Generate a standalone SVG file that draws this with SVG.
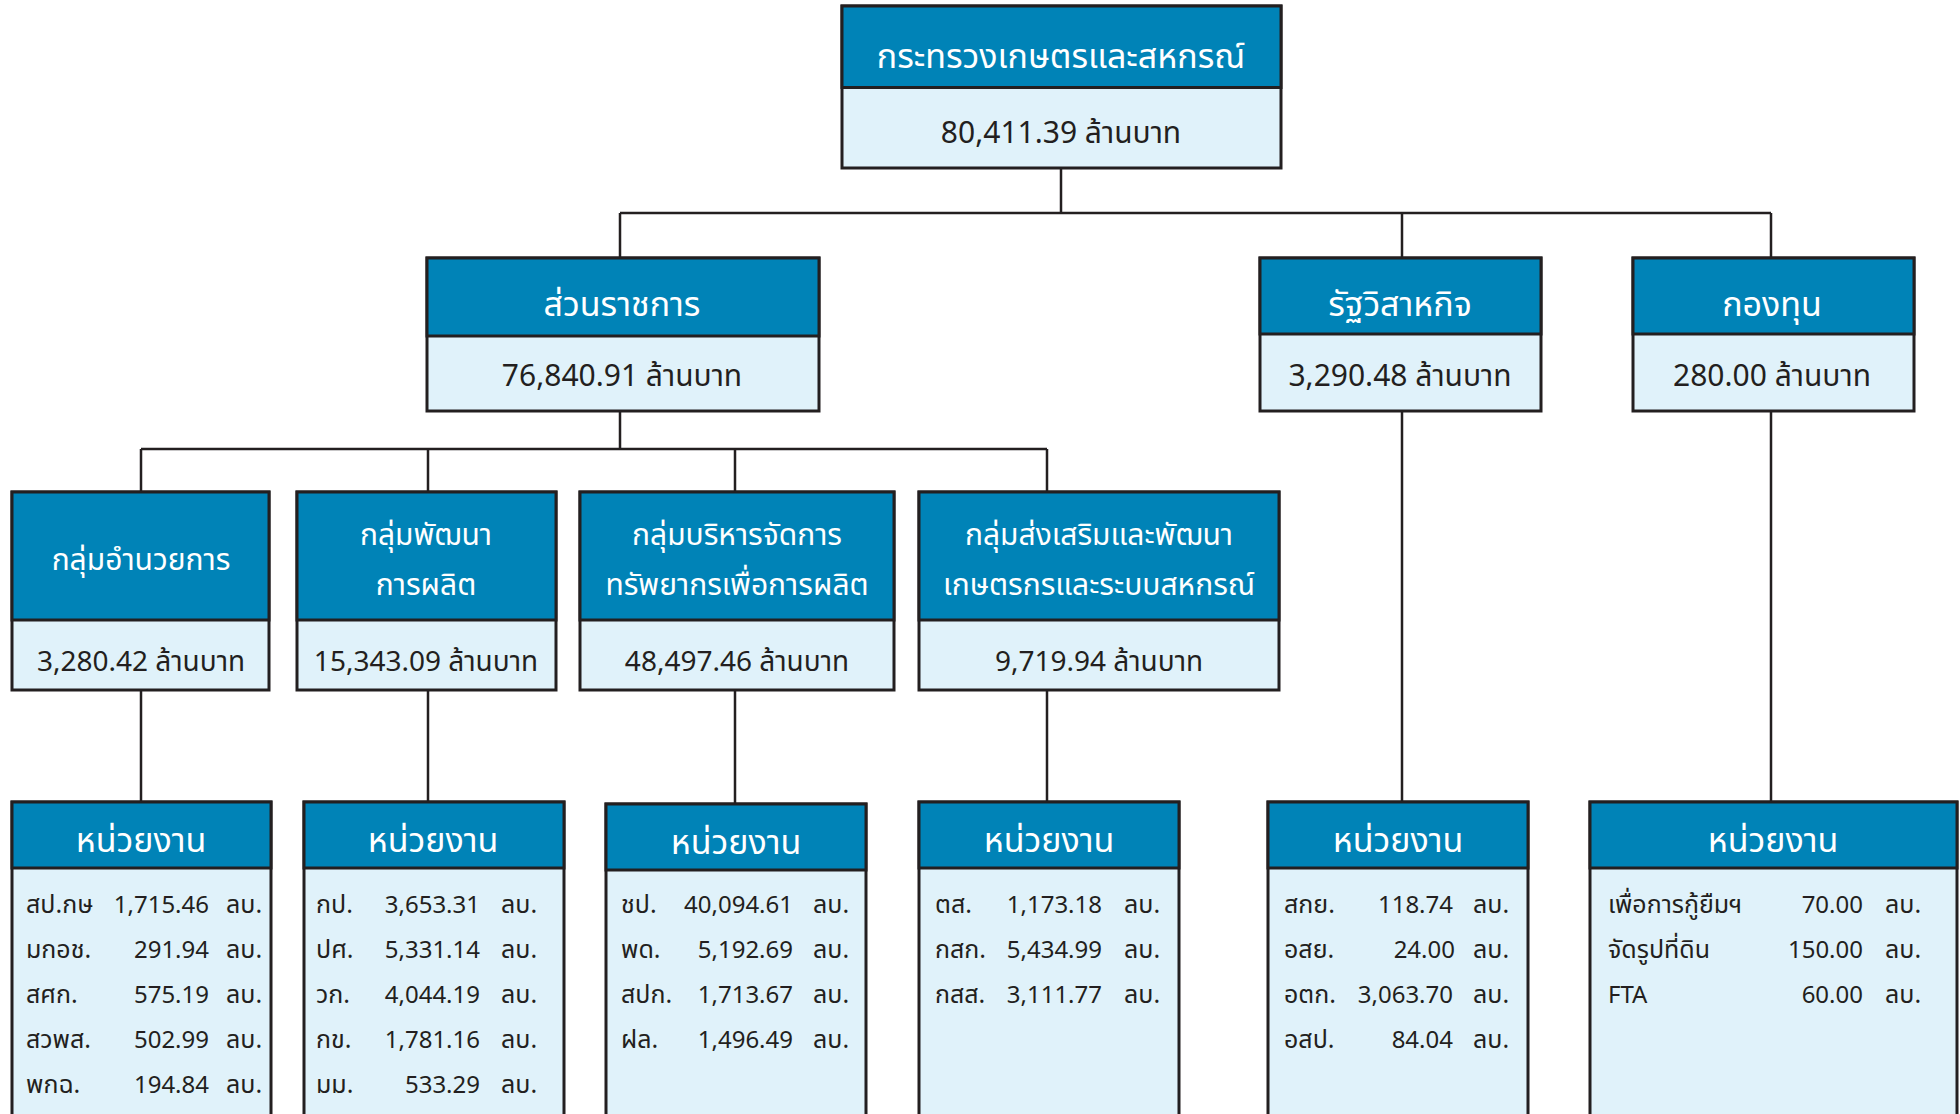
<svg xmlns="http://www.w3.org/2000/svg" width="1960" height="1114" viewBox="0 0 1960 1114">
<style>
.hd{fill:#0083b7;stroke:#231f20;stroke-width:3}
.bd{fill:#e0f2fa;stroke:#231f20;stroke-width:3}
.ln{fill:none;stroke:#231f20;stroke-width:2.5}
text{font-family:"Noto Sans Thai","Noto Sans","DejaVu Sans",sans-serif}
.ht{fill:#ffffff;font-size:34px;text-anchor:middle}
.h3{font-size:30px}
.vt{fill:#231f20;font-size:30px;text-anchor:middle}
.v3{font-size:28px}
.it{fill:#231f20;font-size:24px}
.th{font-size:25px}
.nr{text-anchor:end}
</style>
<rect width="1960" height="1114" fill="#ffffff"/>
<g id="connectors" class="ln">
<path d="M1061 168V213M620 213H1771M620 213V258M1402 213V258M1771 213V258"/>
<path d="M620 411V449M141 449H1047M141 449V492M428 449V492M735 449V492M1047 449V492"/>
<path d="M141 690V802M428 690V802M735 690V804M1047 690V802M1402 411V802M1771 411V802"/>
</g>
<g id="n-moac">
<rect class="bd" x="842" y="6" width="439" height="162"/>
<rect class="hd" x="842" y="6" width="439" height="81.5"/>
<text class="ht" x="1061" y="68">กระทรวงเกษตรและสหกรณ์</text>
<text class="vt" x="1061" y="143">80,411.39 ล้านบาท</text>
</g>
<g id="n-gov">
<rect class="bd" x="427" y="258" width="392" height="153"/>
<rect class="hd" x="427" y="258" width="392" height="78"/>
<text class="ht" x="622" y="316">ส่วนราชการ</text>
<text class="vt" x="622" y="386">76,840.91 ล้านบาท</text>
</g>
<g id="n-soe">
<rect class="bd" x="1260" y="258" width="281" height="153"/>
<rect class="hd" x="1260" y="258" width="281" height="76"/>
<text class="ht" x="1400" y="316">รัฐวิสาหกิจ</text>
<text class="vt" x="1400" y="386">3,290.48 ล้านบาท</text>
</g>
<g id="n-fund">
<rect class="bd" x="1633" y="258" width="281" height="153"/>
<rect class="hd" x="1633" y="258" width="281" height="76"/>
<text class="ht" x="1772" y="316">กองทุน</text>
<text class="vt" x="1772" y="386">280.00 ล้านบาท</text>
</g>
<g id="n-g1">
<rect class="bd" x="12" y="492" width="257" height="198"/>
<rect class="hd" x="12" y="492" width="257" height="128"/>
<text class="ht h3" x="141" y="570">กลุ่มอำนวยการ</text>
<text class="vt v3" x="141" y="671">3,280.42 ล้านบาท</text>
</g>
<g id="n-g2">
<rect class="bd" x="297" y="492" width="259" height="198"/>
<rect class="hd" x="297" y="492" width="259" height="128"/>
<text class="ht h3" x="426" y="545">กลุ่มพัฒนา</text>
<text class="ht h3" x="426" y="595">การผลิต</text>
<text class="vt v3" x="426" y="671">15,343.09 ล้านบาท</text>
</g>
<g id="n-g3">
<rect class="bd" x="580" y="492" width="314" height="198"/>
<rect class="hd" x="580" y="492" width="314" height="128"/>
<text class="ht h3" x="737" y="545">กลุ่มบริหารจัดการ</text>
<text class="ht h3" x="737" y="595">ทรัพยากรเพื่อการผลิต</text>
<text class="vt v3" x="737" y="671">48,497.46 ล้านบาท</text>
</g>
<g id="n-g4">
<rect class="bd" x="919" y="492" width="360" height="198"/>
<rect class="hd" x="919" y="492" width="360" height="128"/>
<text class="ht h3" x="1099" y="545">กลุ่มส่งเสริมและพัฒนา</text>
<text class="ht h3" x="1099" y="595">เกษตรกรและระบบสหกรณ์</text>
<text class="vt v3" x="1099" y="671">9,719.94 ล้านบาท</text>
</g>
<g id="n-u1">
<rect class="bd" x="12" y="802" width="259" height="330"/>
<rect class="hd" x="12" y="802" width="259" height="66"/>
<text class="ht" x="141" y="852">หน่วยงาน</text>
<g class="it">
<text class="th" x="26" y="913">สป.กษ</text><text class="nr" x="209" y="913">1,715.46</text><text class="th" x="226" y="913">ลบ.</text>
<text class="th" x="26" y="958">มกอช.</text><text class="nr" x="209" y="958">291.94</text><text class="th" x="226" y="958">ลบ.</text>
<text class="th" x="26" y="1003">สศก.</text><text class="nr" x="209" y="1003">575.19</text><text class="th" x="226" y="1003">ลบ.</text>
<text class="th" x="26" y="1048">สวพส.</text><text class="nr" x="209" y="1048">502.99</text><text class="th" x="226" y="1048">ลบ.</text>
<text class="th" x="26" y="1093">พกฉ.</text><text class="nr" x="209" y="1093">194.84</text><text class="th" x="226" y="1093">ลบ.</text>
</g>
</g>
<g id="n-u2">
<rect class="bd" x="304" y="802" width="260" height="330"/>
<rect class="hd" x="304" y="802" width="260" height="66"/>
<text class="ht" x="433" y="852">หน่วยงาน</text>
<g class="it">
<text class="th" x="316" y="913">กป.</text><text class="nr" x="480" y="913">3,653.31</text><text class="th" x="501" y="913">ลบ.</text>
<text class="th" x="316" y="958">ปศ.</text><text class="nr" x="480" y="958">5,331.14</text><text class="th" x="501" y="958">ลบ.</text>
<text class="th" x="316" y="1003">วก.</text><text class="nr" x="480" y="1003">4,044.19</text><text class="th" x="501" y="1003">ลบ.</text>
<text class="th" x="316" y="1048">กข.</text><text class="nr" x="480" y="1048">1,781.16</text><text class="th" x="501" y="1048">ลบ.</text>
<text class="th" x="316" y="1093">มม.</text><text class="nr" x="480" y="1093">533.29</text><text class="th" x="501" y="1093">ลบ.</text>
</g>
</g>
<g id="n-u3">
<rect class="bd" x="606" y="804" width="260" height="330"/>
<rect class="hd" x="606" y="804" width="260" height="66"/>
<text class="ht" x="736" y="854">หน่วยงาน</text>
<g class="it">
<text class="th" x="621" y="913">ชป.</text><text class="nr" x="793" y="913">40,094.61</text><text class="th" x="813" y="913">ลบ.</text>
<text class="th" x="621" y="958">พด.</text><text class="nr" x="793" y="958">5,192.69</text><text class="th" x="813" y="958">ลบ.</text>
<text class="th" x="621" y="1003">สปก.</text><text class="nr" x="793" y="1003">1,713.67</text><text class="th" x="813" y="1003">ลบ.</text>
<text class="th" x="621" y="1048">ฝล.</text><text class="nr" x="793" y="1048">1,496.49</text><text class="th" x="813" y="1048">ลบ.</text>
</g>
</g>
<g id="n-u4">
<rect class="bd" x="919" y="802" width="260" height="330"/>
<rect class="hd" x="919" y="802" width="260" height="66"/>
<text class="ht" x="1049" y="852">หน่วยงาน</text>
<g class="it">
<text class="th" x="935" y="913">ตส.</text><text class="nr" x="1102" y="913">1,173.18</text><text class="th" x="1124" y="913">ลบ.</text>
<text class="th" x="935" y="958">กสก.</text><text class="nr" x="1102" y="958">5,434.99</text><text class="th" x="1124" y="958">ลบ.</text>
<text class="th" x="935" y="1003">กสส.</text><text class="nr" x="1102" y="1003">3,111.77</text><text class="th" x="1124" y="1003">ลบ.</text>
</g>
</g>
<g id="n-u5">
<rect class="bd" x="1268" y="802" width="260" height="330"/>
<rect class="hd" x="1268" y="802" width="260" height="66"/>
<text class="ht" x="1398" y="852">หน่วยงาน</text>
<g class="it">
<text class="th" x="1284" y="913">สกย.</text><text class="nr" x="1453" y="913">118.74</text><text class="th" x="1473" y="913">ลบ.</text>
<text class="th" x="1284" y="958">อสย.</text><text class="nr" x="1455" y="958">24.00</text><text class="th" x="1473" y="958">ลบ.</text>
<text class="th" x="1284" y="1003">อตก.</text><text class="nr" x="1453" y="1003">3,063.70</text><text class="th" x="1473" y="1003">ลบ.</text>
<text class="th" x="1284" y="1048">อสป.</text><text class="nr" x="1453" y="1048">84.04</text><text class="th" x="1473" y="1048">ลบ.</text>
</g>
</g>
<g id="n-u6">
<rect class="bd" x="1590" y="802" width="367" height="330"/>
<rect class="hd" x="1590" y="802" width="367" height="66"/>
<text class="ht" x="1773" y="852">หน่วยงาน</text>
<g class="it">
<text class="th" x="1608" y="913">เพื่อการกู้ยืมฯ</text><text class="nr" x="1863" y="913">70.00</text><text class="th" x="1885" y="913">ลบ.</text>
<text class="th" x="1608" y="958">จัดรูปที่ดิน</text><text class="nr" x="1863" y="958">150.00</text><text class="th" x="1885" y="958">ลบ.</text>
<text x="1608" y="1003">FTA</text><text class="nr" x="1863" y="1003">60.00</text><text class="th" x="1885" y="1003">ลบ.</text>
</g>
</g>
</svg>
